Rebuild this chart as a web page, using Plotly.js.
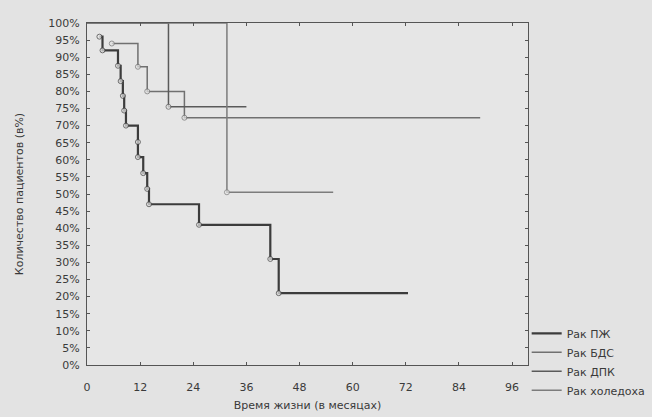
<!DOCTYPE html>
<html><head><meta charset="utf-8">
<script src="https://cdn.plot.ly/plotly-3.0.1.min.js"></script>
<style>html,body{margin:0;padding:0;background:#e3e3e3;}#chart{width:652px;height:417px;}</style>
</head><body><div id="chart"></div>
<script>
// Kaplan-Meier curves (months, % surviving)
const seriesNames = ["Рак ПЖ", "Рак БДС", "Рак ДПК", "Рак холедоха"];
const pzhTime = [2.8, 3.5, 7.0, 7.6, 8.1, 8.4, 8.8, 11.5, 11.5, 12.7, 13.6, 14.0, 25.3, 41.4, 43.3, 72.5];
const pzhSurv = [96, 92, 87.5, 83, 78.7, 74.4, 70, 65.2, 60.8, 56.1, 51.5, 47, 41, 31, 21, 21];
const bdsTime = [5.6, 11.5, 13.6, 22.0, 88.8];
const bdsSurv = [94, 87.2, 80, 72.3, 72.3];
const dpkTime = [0, 18.4, 36];
const dpkSurv = [100, 75.5, 75.5];
const holTime = [0, 31.6, 55.6];
const holSurv = [100, 50.5, 50.5];
const xTicks = [0, 12, 24, 36, 48, 60, 72, 84, 96];
const yTicks = [0,5,10,15,20,25,30,35,40,45,50,55,60,65,70,75,80,85,90,95,100];

const bg = "#e6e6e6";
function markerSizes(t, first) {
  return t.map((v, i) => (i === t.length - 1 || (i === 0 && !first)) ? 0 : 5);
}
function mk(name, t, s, color, width, firstMarker) {
  return [
    {type: "scatter", mode: "lines", name: name, x: t, y: s,
     line: {shape: "hv", color: color, width: width}},
    {type: "scatter", mode: "markers", name: name, x: t, y: s, showlegend: false,
     marker: {symbol: "circle", size: markerSizes(t, firstMarker), color: bg, line: {color: color, width: 1}}}
  ];
}
const traces = [].concat(
  mk(seriesNames[0], pzhTime, pzhSurv, "#3c3c3c", 2.2, true),
  mk(seriesNames[1], bdsTime, bdsSurv, "#707070", 1.5, true),
  mk(seriesNames[2], dpkTime, dpkSurv, "#5a5a5a", 1.5, false),
  mk(seriesNames[3], holTime, holSurv, "#7c7c7c", 1.5, false)
);
const font = {family: "DejaVu Sans, sans-serif", size: 11, color: "#3a3a3a"};
const layout = {
  width: 652, height: 417,
  paper_bgcolor: "#e3e3e3", plot_bgcolor: bg,
  margin: {l: 87, r: 124, t: 23, b: 52, autoexpand: false},
  font: font,
  showlegend: true,
  legend: {x: 0.997, y: 0.135, xanchor: "left", yanchor: "top", bgcolor: "rgba(0,0,0,0)",
           font: font, itemwidth: 30, tracegroupgap: 0},
  xaxis: {range: [0, 99.6], tickvals: xTicks, ticktext: xTicks.map(String),
          showgrid: false, zeroline: false, showline: true, linecolor: "#555", linewidth: 1, mirror: "ticks",
          ticks: "inside", ticklen: 3, tickcolor: "#555", ticklabelstandoff: 12,
          title: {text: "Время жизни (в месяцах)", font: font, standoff: 8}},
  yaxis: {range: [0, 100], tickvals: yTicks, ticktext: yTicks.map(v => v + "%"),
          showgrid: false, zeroline: false, showline: true, linecolor: "#555", linewidth: 1, mirror: "ticks",
          ticks: "inside", ticklen: 3, tickcolor: "#555", ticklabelstandoff: 4,
          title: {text: "Количество пациентов (в%)", font: font, standoff: 22}}
};
Plotly.newPlot("chart", traces, layout, {displayModeBar: false, staticPlot: true});
</script>
</body></html>
